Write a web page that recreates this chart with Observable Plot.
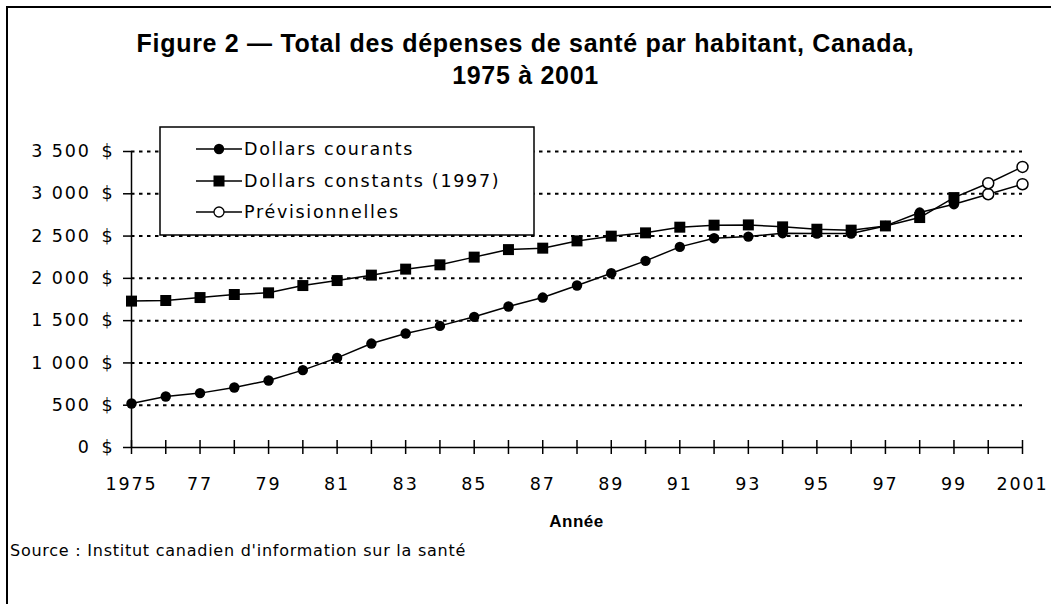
<!DOCTYPE html>
<html>
<head>
<meta charset="utf-8">
<script src="https://cdn.jsdelivr.net/npm/d3@7"></script>
<script src="https://cdn.jsdelivr.net/npm/@observablehq/plot@0.6"></script>
<style>
  body { margin: 0; background: #fff; }
  #wrap { position: relative; width: 1051px; height: 604px; overflow: hidden; background: #fff; }
  #frame { position: absolute; left: 6px; top: 6px; width: 1100px; height: 700px; border-top: 2px solid #000; border-left: 2px solid #000; pointer-events: none; }
  #title { position: absolute; left: 0; top: 27px; width: 1051px; text-align: center; font-family: "Liberation Sans", Arial, sans-serif; font-weight: bold; font-size: 25px; line-height: 32px; letter-spacing: 0.7px; color: #000; }
  #xlabel { position: absolute; left: 131px; top: 512px; width: 891px; text-align: center; font-family: "Liberation Sans", Arial, sans-serif; font-weight: bold; font-size: 17px; letter-spacing: 0.5px; color: #000; }
  #source { position: absolute; left: 10px; top: 541px; font-family: "DejaVu Sans", sans-serif; font-size: 16px; letter-spacing: 0.75px; color: #000; }
  #legend { position: absolute; left: 159px; top: 126px; }
  #chart { position: absolute; left: 0; top: 0; }
</style>
</head>
<body>
<div id="wrap">
  <div id="chart"></div>
  <div id="title">Figure 2 — Total des dépenses de santé par habitant, Canada,<br>1975 à 2001</div>
  <div id="xlabel">Année</div>
  <div id="source">Source : Institut canadien d'information sur la santé</div>
  <div id="legend"></div>
  <div id="frame"></div>
</div>
<script>
// ---- Data ----
const years = [1975, 1976, 1977, 1978, 1979, 1980, 1981, 1982, 1983, 1984, 1985, 1986, 1987,
               1988, 1989, 1990, 1991, 1992, 1993, 1994, 1995, 1996, 1997, 1998, 1999];
const courants = [520, 603, 643, 709, 792, 915, 1060, 1229, 1348, 1438, 1545, 1667, 1773,
                  1915, 2061, 2207, 2372, 2475, 2494, 2534, 2530, 2530, 2620, 2778, 2877];
const constants = [1731, 1738, 1773, 1809, 1829, 1915, 1974, 2038, 2109, 2160, 2251, 2340, 2357,
                   2443, 2499, 2538, 2605, 2629, 2632, 2609, 2581, 2570, 2620, 2719, 2955];
const forecastYears = [1999, 2000, 2001];
const forecastCourants = [2877, 2995, 3113];
const forecastConstants = [2955, 3125, 3318];
const forecastMarkerYears = [2000, 2001];
const forecastMarkerCourants = [2995, 3113];
const forecastMarkerConstants = [3125, 3318];

const yTicks = [0, 500, 1000, 1500, 2000, 2500, 3000, 3500];
const gridValues = [500, 1000, 1500, 2000, 2500, 3000, 3500];
const tickYears = [1975, 1976, 1977, 1978, 1979, 1980, 1981, 1982, 1983, 1984, 1985, 1986, 1987, 1988,
                   1989, 1990, 1991, 1992, 1993, 1994, 1995, 1996, 1997, 1998, 1999, 2000, 2001];
const labelYears = [1975, 1977, 1979, 1981, 1983, 1985, 1987, 1989, 1991, 1993, 1995, 1997, 1999, 2001];
const labelTexts = ["1975", "77", "79", "81", "83", "85", "87", "89", "91", "93", "95", "97", "99", "2001"];
const legendLabels = ["Dollars courants", "Dollars constants (1997)", "Prévisionnelles"];

const yFmt = d => d3.format(",")(d).replace(/,/g, " ") + "\u2002$";
const xFmt = d => { const i = labelYears.indexOf(d); return i >= 0 ? labelTexts[i] : ""; };

const chart = Plot.plot({
  width: 1051,
  height: 604,
  marginLeft: 131,
  marginRight: 29,
  marginTop: 151,
  marginBottom: 157,
  style: { fontFamily: "DejaVu Sans, sans-serif", fontSize: "17.5px", letterSpacing: "1.9px", color: "#000", background: "transparent" },
  x: { domain: [1975, 2001] },
  y: { domain: [0, 3500] },
  marks: [
    Plot.ruleY(gridValues, { stroke: "#000", strokeWidth: 2, strokeDasharray: "3.5,4.5" }),
    Plot.ruleY([0], { stroke: "#000", strokeWidth: 1.5 }),
    Plot.ruleX([1975], { y1: 0, y2: 3500, stroke: "#000", strokeWidth: 1.5 }),
    Plot.axisY({ ticks: yTicks, tickSize: 8, tickPadding: 9, tickFormat: yFmt, label: null, strokeWidth: 1.5 }),
    Plot.axisX({ ticks: tickYears, tickSize: 14, dy: -7, tickPadding: 23, tickFormat: xFmt, label: null, strokeWidth: 1.5 }),
    Plot.line(constants, { x: years, y: constants, stroke: "#000", strokeWidth: 1.5 }),
    Plot.line(courants, { x: years, y: courants, stroke: "#000", strokeWidth: 1.5 }),
    Plot.line(forecastConstants, { x: forecastYears, y: forecastConstants, stroke: "#000", strokeWidth: 1.5 }),
    Plot.line(forecastCourants, { x: forecastYears, y: forecastCourants, stroke: "#000", strokeWidth: 1.5 }),
    Plot.dot(courants, { x: years, y: courants, r: 5.2, fill: "#000", symbol: "circle" }),
    Plot.dot(constants, { x: years, y: constants, r: 6.2, fill: "#000", symbol: "square" }),
    Plot.dot(forecastMarkerCourants, { x: forecastMarkerYears, y: forecastMarkerCourants, r: 5.5, fill: "#fff", stroke: "#000", strokeWidth: 1.5 }),
    Plot.dot(forecastMarkerConstants, { x: forecastMarkerYears, y: forecastMarkerConstants, r: 5.5, fill: "#fff", stroke: "#000", strokeWidth: 1.5 })
  ]
});
document.getElementById("chart").appendChild(chart);

// ---- Legend ----
const lg = d3.select("#legend").append("svg").attr("width", 378).attr("height", 112);
lg.append("rect").attr("x", 1).attr("y", 1).attr("width", 374).attr("height", 108)
  .attr("fill", "#fff").attr("stroke", "#000").attr("stroke-width", 1.5);
const rowsY = [23, 55, 86];
legendLabels.forEach((lab, i) => {
  const g = lg.append("g").attr("transform", `translate(0,${rowsY[i]})`);
  g.append("line").attr("x1", 37).attr("x2", 83).attr("y1", 0).attr("y2", 0).attr("stroke", "#000").attr("stroke-width", 1.5);
  if (i === 0) g.append("circle").attr("cx", 60).attr("cy", 0).attr("r", 5.2).attr("fill", "#000");
  if (i === 1) g.append("rect").attr("x", 54.5).attr("y", -5.5).attr("width", 11).attr("height", 11).attr("fill", "#000");
  if (i === 2) g.append("circle").attr("cx", 60).attr("cy", 0).attr("r", 5).attr("fill", "#fff").attr("stroke", "#000").attr("stroke-width", 1.3);
  g.append("text").attr("x", 85).attr("y", 0).attr("dy", "0.36em")
    .attr("font-family", "DejaVu Sans, sans-serif").attr("font-size", 17.5).attr("letter-spacing", "1.7px")
    .text(lab);
});
</script>
</body>
</html>
